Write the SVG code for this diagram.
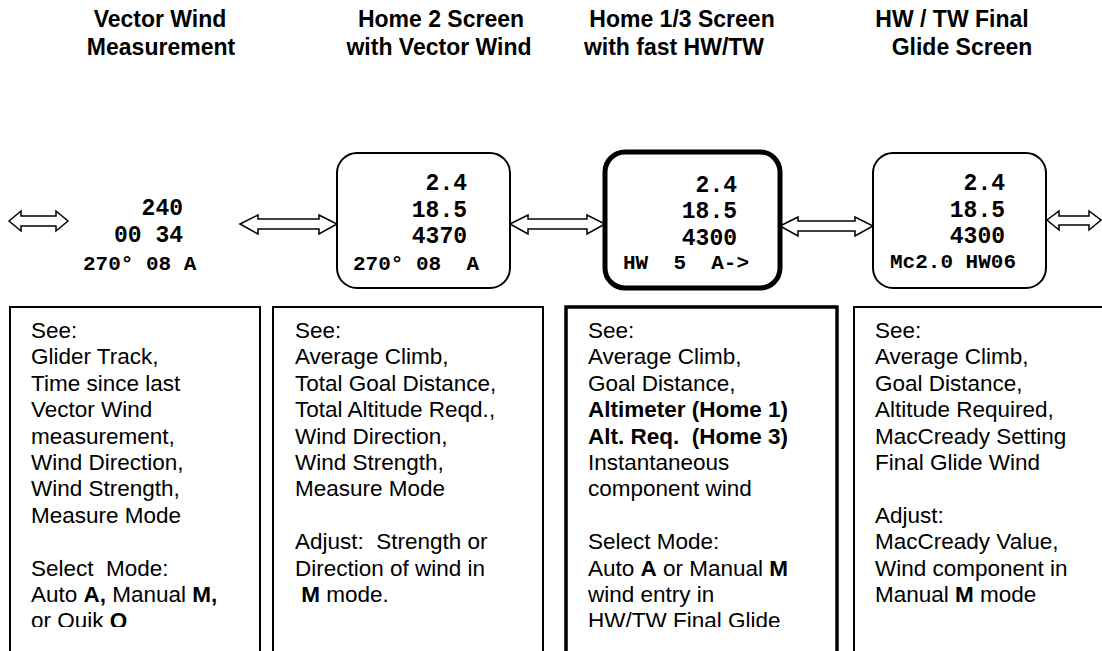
<svg xmlns="http://www.w3.org/2000/svg" width="1102" height="651" viewBox="0 0 1102 651">
<style>
.title{font-family:"Liberation Sans",Arial,sans-serif;font-weight:bold;font-size:23px;fill:#000;text-anchor:middle}
.body{font-family:"Liberation Sans",Arial,sans-serif;font-size:22.5px;fill:#000}
.b{font-weight:bold}
.scr{font-family:"Liberation Mono","Courier New",monospace;font-weight:bold;font-size:23px;fill:#000}
.scrs{font-family:"Liberation Mono","Courier New",monospace;font-weight:bold;font-size:21px;fill:#000}
.r{text-anchor:end}
.frame{fill:#fff;stroke:#000;stroke-width:2}
.thick{fill:#fff;stroke:#000;stroke-width:4}
.arrow{fill:#fff;stroke:#000;stroke-width:1.5;stroke-linejoin:miter}
</style>
<defs>
<clipPath id="textclip"><rect x="0" y="300" width="1102" height="327"/></clipPath>
</defs>
<rect width="1102" height="651" fill="#fff"/>

<g id="titles">
<text class="title" x="160" y="27">Vector Wind</text>
<text class="title" x="161" y="55">Measurement</text>
<text class="title" x="441" y="27">Home 2 Screen</text>
<text class="title" x="439" y="55">with Vector Wind</text>
<text class="title" x="682" y="27">Home 1/3 Screen</text>
<text class="title" x="674" y="55">with fast HW/TW</text>
<text class="title" x="952" y="27">HW / TW Final</text>
<text class="title" x="962" y="55">Glide Screen</text>
</g>

<g id="connectors">
<polygon class="arrow" points="9,221 21,211 21,216 56,216 56,211 68,221 56,231 56,226 21,226 21,231"/>
<polygon class="arrow" points="240,224 258,215 258,219 319,219 319,215 337,224 319,234 319,229 258,229 258,234"/>
<polygon class="arrow" points="510,224 528,215 528,219 587,219 587,215 605,224 587,234 587,229 528,229 528,234"/>
<polygon class="arrow" points="780,226 798,217 798,221 855,221 855,217 873,226 855,236 855,231 798,231 798,236"/>
<polygon class="arrow" points="1047,220 1059,211 1059,216 1089,216 1089,211 1101,220 1089,230 1089,225 1059,225 1059,230"/>
</g>

<g id="screen1">
<text class="scr r" x="183" y="215">240</text>
<text class="scr r" x="183" y="242">00 34</text>
<text class="scrs" x="83" y="270">270° 08 A</text>
</g>

<g id="screen2">
<rect class="frame" x="337" y="153" width="173" height="135" rx="20"/>
<text class="scr r" x="467" y="190">2.4</text>
<text class="scr r" x="467" y="217">18.5</text>
<text class="scr r" x="467" y="243">4370</text>
<text class="scrs" x="353" y="270" xml:space="preserve">270° 08  A</text>
</g>

<g id="screen3">
<rect class="thick" x="605" y="152" width="175" height="136" rx="20" style="stroke-width:5"/>
<text class="scr r" x="737" y="192">2.4</text>
<text class="scr r" x="737" y="218">18.5</text>
<text class="scr r" x="737" y="245">4300</text>
<text class="scrs" x="623" y="269" xml:space="preserve">HW  5  A-&gt;</text>
</g>

<g id="screen4">
<rect class="frame" x="873" y="153" width="173" height="135" rx="20"/>
<text class="scr r" x="1005" y="190">2.4</text>
<text class="scr r" x="1005" y="217">18.5</text>
<text class="scr r" x="1005" y="243">4300</text>
<text class="scrs" x="890" y="268">Mc2.0 HW06</text>
</g>

<g id="desc1">
<rect class="frame" x="10" y="307" width="250" height="360"/>
<text class="body" xml:space="preserve" clip-path="url(#textclip)">
<tspan x="31" y="338">See:</tspan>
<tspan x="31" y="364.4">Glider Track,</tspan>
<tspan x="31" y="390.8">Time since last</tspan>
<tspan x="31" y="417.2">Vector Wind</tspan>
<tspan x="31" y="443.6">measurement,</tspan>
<tspan x="31" y="470">Wind Direction,</tspan>
<tspan x="31" y="496.4">Wind Strength,</tspan>
<tspan x="31" y="522.8">Measure Mode</tspan>
<tspan x="31" y="575.6">Select  Mode:</tspan>
<tspan x="31" y="602">Auto <tspan class="b">A,</tspan> Manual <tspan class="b">M,</tspan></tspan>
<tspan x="31" y="628.4">or Quik <tspan class="b">Q</tspan></tspan>
</text>
</g>

<g id="desc2">
<rect class="frame" x="273" y="307" width="270" height="360"/>
<text class="body" xml:space="preserve">
<tspan x="295" y="338">See:</tspan>
<tspan x="295" y="364.4">Average Climb,</tspan>
<tspan x="295" y="390.8">Total Goal Distance,</tspan>
<tspan x="295" y="417.2">Total Altitude Reqd.,</tspan>
<tspan x="295" y="443.6">Wind Direction,</tspan>
<tspan x="295" y="470">Wind Strength,</tspan>
<tspan x="295" y="496.4">Measure Mode</tspan>
<tspan x="295" y="549.2">Adjust:  Strength or</tspan>
<tspan x="295" y="575.6">Direction of wind in</tspan>
<tspan x="295" y="602"> <tspan class="b">M</tspan> mode.</tspan>
</text>
</g>

<g id="desc3">
<rect class="thick" x="566" y="307" width="271" height="360" style="stroke-width:3.5"/>
<text class="body" xml:space="preserve" clip-path="url(#textclip)">
<tspan x="588" y="338">See:</tspan>
<tspan x="588" y="364.4">Average Climb,</tspan>
<tspan x="588" y="390.8">Goal Distance,</tspan>
<tspan x="588" y="417.2" class="b">Altimeter (Home 1)</tspan>
<tspan x="588" y="443.6" class="b">Alt. Req.  (Home 3)</tspan>
<tspan x="588" y="470">Instantaneous</tspan>
<tspan x="588" y="496.4">component wind</tspan>
<tspan x="588" y="549.2">Select Mode:</tspan>
<tspan x="588" y="575.6">Auto <tspan class="b">A</tspan> or Manual <tspan class="b">M</tspan></tspan>
<tspan x="588" y="602">wind entry in</tspan>
<tspan x="588" y="628.4">HW/TW Final Glide</tspan>
</text>
</g>

<g id="desc4">
<rect class="frame" x="854" y="307" width="270" height="360"/>
<text class="body" xml:space="preserve">
<tspan x="875" y="338">See:</tspan>
<tspan x="875" y="364.4">Average Climb,</tspan>
<tspan x="875" y="390.8">Goal Distance,</tspan>
<tspan x="875" y="417.2">Altitude Required,</tspan>
<tspan x="875" y="443.6">MacCready Setting</tspan>
<tspan x="875" y="470">Final Glide Wind</tspan>
<tspan x="875" y="522.8">Adjust:</tspan>
<tspan x="875" y="549.2">MacCready Value,</tspan>
<tspan x="875" y="575.6">Wind component in</tspan>
<tspan x="875" y="602">Manual <tspan class="b">M</tspan> mode</tspan>
</text>
</g>
</svg>
